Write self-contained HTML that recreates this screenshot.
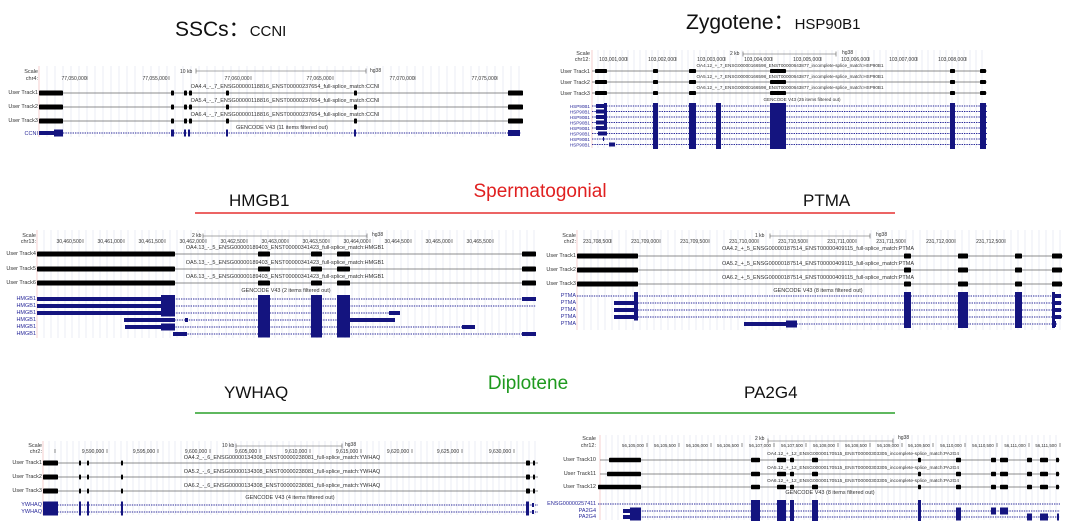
<!DOCTYPE html>
<html><head><meta charset="utf-8">
<style>
html,body{margin:0;padding:0;background:#fff;}
svg{display:block;font-family:"Liberation Sans",sans-serif;}
.t{font-size:5px;fill:#333;}
.tk{font-size:5px;fill:#333;text-anchor:middle;}
.lb{font-size:5.5px;fill:#333;text-anchor:end;}
.gl{font-size:5.5px;fill:#2a2a9a;text-anchor:end;}
.c{font-size:5.5px;fill:#333;text-anchor:middle;}
</style></head><body>
<svg id="s" width="1080" height="532" viewBox="0 0 1080 532" xmlns="http://www.w3.org/2000/svg">
<g id="bg"></g>
<g id="shapes"></g>
<!-- Titles -->
<text x="175" y="36" font-size="21" fill="#111">SSCs：<tspan font-size="15">CCNI</tspan></text>
<text x="686" y="29" font-size="21" fill="#111">Zygotene：<tspan font-size="15">HSP90B1</tspan></text>
<text x="229" y="206" font-size="17" fill="#111">HMGB1</text>
<text x="540" y="197" font-size="19" fill="#e02020" text-anchor="middle">Spermatogonial</text>
<line x1="195" y1="213" x2="895" y2="213" stroke="#e53030" stroke-width="1.5"/>
<text x="803" y="206" font-size="17" fill="#111">PTMA</text>
<text x="224" y="398" font-size="17" fill="#111">YWHAQ</text>
<text x="528" y="389" font-size="19" fill="#1f9a1f" text-anchor="middle">Diplotene</text>
<line x1="195" y1="413" x2="895" y2="413" stroke="#2aa02a" stroke-width="1.5"/>
<text x="744" y="398" font-size="17" fill="#111">PA2G4</text>

<!-- Panel 1 CCNI -->
<text class="lb" x="38" y="73">Scale</text><text class="lb" x="38" y="80">chr4:</text>
<text class="tk" x="74" y="80">77,050,000</text><text class="tk" x="155" y="80">77,055,000</text>
<text class="tk" x="237" y="80">77,060,000</text><text class="tk" x="319" y="80">77,065,000</text>
<text class="tk" x="402" y="80">77,070,000</text><text class="tk" x="484" y="80">77,075,000</text>
<text class="t" x="180" y="73">10 kb</text><text class="t" x="370" y="72">hg38</text>
<text class="c" x="285" y="88">OA4.4_-_7_ENSG00000118816_ENST00000237654_full-splice_match:CCNI</text>
<text class="c" x="285" y="102">OA5.4_-_7_ENSG00000118816_ENST00000237654_full-splice_match:CCNI</text>
<text class="c" x="285" y="116">OA6.4_-_7_ENSG00000118816_ENST00000237654_full-splice_match:CCNI</text>
<text class="lb" x="38" y="94">User Track1</text><text class="lb" x="38" y="108">User Track2</text><text class="lb" x="38" y="122">User Track3</text>
<text class="c" x="282" y="129">GENCODE V43 (11 items filtered out)</text>
<text class="gl" x="38" y="135">CCNI</text>

<!-- Panel 2 HSP90B1 -->
<text class="lb" x="590" y="55">Scale</text><text class="lb" x="590" y="61">chr12:</text>
<text class="tk" x="613" y="61">103,001,000</text><text class="tk" x="662" y="61">103,002,000</text>
<text class="tk" x="711" y="61">103,003,000</text><text class="tk" x="758" y="61">103,004,000</text>
<text class="tk" x="807" y="61">103,005,000</text><text class="tk" x="855" y="61">103,006,000</text>
<text class="tk" x="903" y="61">103,007,000</text><text class="tk" x="952" y="61">103,008,000</text>
<text class="t" x="730" y="55">2 kb</text><text class="t" x="842" y="54">hg38</text>
<text class="c" x="790" y="67" style="font-size:4.6px">OA4.12_+_7_ENSG00000166598_ENST00000643877_incomplete-splice_match:HSP90B1</text>
<text class="c" x="790" y="78" style="font-size:4.6px">OA5.12_+_7_ENSG00000166598_ENST00000643877_incomplete-splice_match:HSP90B1</text>
<text class="c" x="790" y="89" style="font-size:4.6px">OA6.12_+_7_ENSG00000166598_ENST00000643877_incomplete-splice_match:HSP90B1</text>
<text class="lb" x="590" y="73">User Track1</text><text class="lb" x="590" y="84">User Track2</text><text class="lb" x="590" y="95">User Track3</text>
<text class="c" x="802" y="101" style="font-size:4.6px">GENCODE V43 (25 items filtered out)</text>
<g style="font-size:4.6px">
<text class="gl" x="590" y="108" style="font-size:4.6px">HSP90B1</text><text class="gl" x="590" y="113.5" style="font-size:4.6px">HSP90B1</text>
<text class="gl" x="590" y="119" style="font-size:4.6px">HSP90B1</text><text class="gl" x="590" y="124.5" style="font-size:4.6px">HSP90B1</text>
<text class="gl" x="590" y="130" style="font-size:4.6px">HSP90B1</text><text class="gl" x="590" y="135.5" style="font-size:4.6px">HSP90B1</text>
<text class="gl" x="590" y="141" style="font-size:4.6px">HSP90B1</text><text class="gl" x="590" y="146.5" style="font-size:4.6px">HSP90B1</text>
</g>

<!-- Panel 3 HMGB1 -->
<text class="lb" x="36" y="237">Scale</text><text class="lb" x="36" y="243">chr13:</text>
<text class="tk" x="69" y="243">30,460,500</text><text class="tk" x="110" y="243">30,461,000</text>
<text class="tk" x="151" y="243">30,461,500</text><text class="tk" x="192" y="243">30,462,000</text>
<text class="tk" x="233" y="243">30,462,500</text><text class="tk" x="274" y="243">30,463,000</text>
<text class="tk" x="315" y="243">30,463,500</text><text class="tk" x="356" y="243">30,464,000</text>
<text class="tk" x="397" y="243">30,464,500</text><text class="tk" x="438" y="243">30,465,000</text>
<text class="tk" x="479" y="243">30,465,500</text>
<text class="t" x="192" y="237">2 kb</text><text class="t" x="372" y="236">hg38</text>
<text class="c" x="285" y="249">OA4.13_-_5_ENSG00000189403_ENST00000341423_full-splice_match:HMGB1</text>
<text class="c" x="285" y="264">OA5.13_-_5_ENSG00000189403_ENST00000341423_full-splice_match:HMGB1</text>
<text class="c" x="285" y="278">OA6.13_-_5_ENSG00000189403_ENST00000341423_full-splice_match:HMGB1</text>
<text class="lb" x="36" y="255">User Track4</text><text class="lb" x="36" y="270">User Track5</text><text class="lb" x="36" y="284">User Track6</text>
<text class="c" x="286" y="292">GENCODE V43 (2 items filtered out)</text>
<text class="gl" x="36" y="300">HMGB1</text><text class="gl" x="36" y="307">HMGB1</text><text class="gl" x="36" y="314">HMGB1</text>
<text class="gl" x="36" y="321">HMGB1</text><text class="gl" x="36" y="328">HMGB1</text><text class="gl" x="36" y="335">HMGB1</text>

<!-- Panel 4 PTMA -->
<text class="lb" x="576" y="237">Scale</text><text class="lb" x="576" y="243">chr2:</text>
<text class="tk" x="597" y="243">231,708,500</text><text class="tk" x="645" y="243">231,709,000</text>
<text class="tk" x="694" y="243">231,709,500</text><text class="tk" x="743" y="243">231,710,000</text>
<text class="tk" x="792" y="243">231,710,500</text><text class="tk" x="841" y="243">231,711,000</text>
<text class="tk" x="890" y="243">231,711,500</text><text class="tk" x="940" y="243">231,712,000</text>
<text class="tk" x="990" y="243">231,712,500</text>
<text class="t" x="755" y="237">1 kb</text><text class="t" x="876" y="236">hg38</text>
<text class="c" x="818" y="250">OA4.2_+_5_ENSG00000187514_ENST00000409115_full-splice_match:PTMA</text>
<text class="c" x="818" y="265">OA5.2_+_5_ENSG00000187514_ENST00000409115_full-splice_match:PTMA</text>
<text class="c" x="818" y="279">OA6.2_+_5_ENSG00000187514_ENST00000409115_full-splice_match:PTMA</text>
<text class="lb" x="576" y="257">User Track1</text><text class="lb" x="576" y="271">User Track2</text><text class="lb" x="576" y="285">User Track3</text>
<text class="c" x="818" y="292">GENCODE V43 (8 items filtered out)</text>
<text class="gl" x="576" y="297">PTMA</text><text class="gl" x="576" y="304">PTMA</text><text class="gl" x="576" y="311">PTMA</text>
<text class="gl" x="576" y="318">PTMA</text><text class="gl" x="576" y="325">PTMA</text>

<!-- Panel 5 YWHAQ -->
<text class="lb" x="42" y="447">Scale</text><text class="lb" x="42" y="453">chr2:</text>
<text class="tk" x="93" y="453">9,590,000</text><text class="tk" x="144" y="453">9,595,000</text>
<text class="tk" x="196" y="453">9,600,000</text><text class="tk" x="246" y="453">9,605,000</text>
<text class="tk" x="296" y="453">9,610,000</text><text class="tk" x="347" y="453">9,615,000</text>
<text class="tk" x="398" y="453">9,620,000</text><text class="tk" x="448" y="453">9,625,000</text>
<text class="tk" x="500" y="453">9,630,000</text>
<text class="t" x="222" y="447">10 kb</text><text class="t" x="345" y="446">hg38</text>
<text class="c" x="282" y="459">OA4.2_-_6_ENSG00000134308_ENST00000238081_full-splice_match:YWHAQ</text>
<text class="c" x="282" y="473">OA5.2_-_6_ENSG00000134308_ENST00000238081_full-splice_match:YWHAQ</text>
<text class="c" x="282" y="487">OA6.2_-_6_ENSG00000134308_ENST00000238081_full-splice_match:YWHAQ</text>
<text class="lb" x="42" y="464">User Track1</text><text class="lb" x="42" y="478">User Track2</text><text class="lb" x="42" y="492">User Track3</text>
<text class="c" x="290" y="499">GENCODE V43 (4 items filtered out)</text>
<text class="gl" x="42" y="506">YWHAQ</text><text class="gl" x="42" y="513">YWHAQ</text>

<!-- Panel 6 PA2G4 -->
<text class="lb" x="596" y="440">Scale</text><text class="lb" x="596" y="447">chr12:</text>
<g style="font-size:4.4px">
<text class="tk" x="633" y="447" style="font-size:4.4px">56,105,000</text><text class="tk" x="665" y="447" style="font-size:4.4px">56,105,500</text>
<text class="tk" x="697" y="447" style="font-size:4.4px">56,106,000</text><text class="tk" x="728" y="447" style="font-size:4.4px">56,106,500</text>
<text class="tk" x="760" y="447" style="font-size:4.4px">56,107,000</text><text class="tk" x="792" y="447" style="font-size:4.4px">56,107,500</text>
<text class="tk" x="824" y="447" style="font-size:4.4px">56,108,000</text><text class="tk" x="856" y="447" style="font-size:4.4px">56,108,500</text>
<text class="tk" x="888" y="447" style="font-size:4.4px">56,109,000</text><text class="tk" x="919" y="447" style="font-size:4.4px">56,109,500</text>
<text class="tk" x="951" y="447" style="font-size:4.4px">56,110,000</text><text class="tk" x="983" y="447" style="font-size:4.4px">56,110,500</text>
<text class="tk" x="1015" y="447" style="font-size:4.4px">56,111,000</text><text class="tk" x="1046" y="447" style="font-size:4.4px">56,111,500</text>
</g>
<text class="t" x="755" y="440">2 kb</text><text class="t" x="898" y="439">hg38</text>
<text class="c" x="863" y="455" style="font-size:4.8px">OA4.12_+_12_ENSG00000170515_ENST00000303305_incomplete-splice_match:PA2G4</text>
<text class="c" x="863" y="469" style="font-size:4.8px">OA5.12_+_12_ENSG00000170515_ENST00000303305_incomplete-splice_match:PA2G4</text>
<text class="c" x="863" y="482" style="font-size:4.8px">OA6.12_+_12_ENSG00000170515_ENST00000303305_incomplete-splice_match:PA2G4</text>
<text class="lb" x="596" y="461">User Track10</text><text class="lb" x="596" y="475">User Track11</text><text class="lb" x="596" y="488">User Track12</text>
<text class="c" x="830" y="494">GENCODE V43 (8 items filtered out)</text>
<text class="gl" x="596" y="505">ENSG00000257411</text><text class="gl" x="596" y="512">PA2G4</text><text class="gl" x="596" y="518">PA2G4</text>
</svg>
<script>
var NS="http://www.w3.org/2000/svg",G=document.getElementById("shapes"),B=document.getElementById("bg");
function el(p,t,a){var e=document.createElementNS(NS,t);for(var k in a)e.setAttribute(k,a[k]);p.appendChild(e);return e;}
function grid(x0,x1,y0,y1,st){for(var x=x0+st;x<x1;x+=st)el(B,"line",{x1:x,y1:y0,x2:x,y2:y1,stroke:"#e6e9f4","stroke-width":0.8});
 el(B,"line",{x1:x0,y1:y0,x2:x0,y2:y1,stroke:"#f4c4c4","stroke-width":0.8});}
function ticks(xs,y){xs.forEach(function(x){el(G,"line",{x1:x,y1:y-4,x2:x,y2:y,stroke:"#444","stroke-width":0.6});});}
function sbar(a,b,y){el(G,"line",{x1:a,y1:y,x2:b,y2:y,stroke:"#555","stroke-width":0.6});el(G,"line",{x1:a,y1:y-2.5,x2:a,y2:y+2.5,stroke:"#555","stroke-width":0.6});el(G,"line",{x1:b,y1:y-2.5,x2:b,y2:y+2.5,stroke:"#555","stroke-width":0.6});}
function ut(y,x0,x1,bl,h){h=h||5;el(G,"line",{x1:x0,y1:y,x2:x1,y2:y,stroke:"#666","stroke-width":0.8});
 bl.forEach(function(b){el(G,"rect",{x:b[0],y:y-h/2,width:b[1]-b[0],height:h,fill:"#000",rx:0.8});});}
function gc(y,x0,x1,bl){el(G,"line",{x1:x0,y1:y,x2:x1,y2:y,stroke:"#2a2a9a","stroke-width":0.9,"stroke-dasharray":"1.4 1"});
 bl.forEach(function(b){var h=b[2]||7;el(G,"rect",{x:b[0],y:y-h/2,width:b[1]-b[0],height:h,fill:"#14147f"});});}
var N="#14147f";
// Panel 1
grid(39,522,66,137,8);sbar(196,366,71);ticks([87,169,251,333,415,497],80);
[93,107,121].forEach(function(y){ut(y,39,523,[[39,63],[171,174],[184,187],[189,192],[226,229],[354,357],[508,523]]);});
gc(133,39,521,[[39,54,4],[54,63,7],[171,174],[184,186],[188,190],[226,228],[354,356],[508,520,6]]);
// Panel 2
grid(592,987,50,148,6);sbar(743,836,54);ticks([627,676,725,772,821,869,917,966],61);
[71,82,93].forEach(function(y){ut(y,592,987,[[595,607],[653,658],[689,696],[770,786],[950,955],[980,986]],4);});
for(var i=0;i<8;i++){var y=106+i*5.5;var a=i<5?[[596,604,4],[604,607,4]]:(i==5?[[598,607,4]]:(i==6?[[603,604,4]]:[[609,615,4]]));
 gc(y,592,987,a);}
el(G,"rect",{x:604,y:103,width:3,height:27,fill:N});
[[653,658],[689,696],[716,721],[770,786],[950,955],[980,986]].forEach(function(b){el(G,"rect",{x:b[0],y:103,width:b[1]-b[0],height:46,fill:N});});
// Panel 3
grid(37,537,230,338,7);sbar(203,367,236);ticks([83,124,165,206,247,288,329,370,411,452,493],243);
[254,269,283].forEach(function(y){ut(y,37,536,[[37,175],[258,270],[311,322],[337,350],[522,536]]);});
var hx=[[258,270],[311,322],[337,350]];
gc(299,37,536,[[37,161,4],[161,175]].concat(hx,[[522,536,4]]));
gc(306,37,536,[[37,161,4],[161,175]].concat(hx));
gc(313,37,400,[[37,161,4],[161,175]].concat(hx,[[389,400,4]]));
gc(320,124,395,[[124,175,4],[185,188,4]].concat(hx,[[350,395,4]]));
gc(327,125,475,[[125,161,4],[161,175]].concat(hx,[[462,475,4]]));
gc(334,173,536,[[173,187,4]].concat(hx,[[522,536,4]]));
hx.forEach(function(b){el(G,"rect",{x:b[0],y:295,width:b[1]-b[0],height:42,fill:N});});
el(G,"rect",{x:161,y:295,width:14,height:21,fill:N});
// Panel 4
grid(577,1064,230,330,7);sbar(770,870,236);ticks([611,660,709,758,807,856,905,955,1005],243);
[256,270,284].forEach(function(y){ut(y,577,1063,[[577,638],[904,911],[958,968],[1015,1022],[1052,1062]]);});
var px=[[904,911],[958,968],[1015,1022]];
gc(296,577,1062,[[634,638]].concat(px,[[1053,1061,4]]));
gc(303,614,1062,[[614,634,4],[634,638]].concat(px,[[1053,1061,4]]));
gc(310,614,1062,[[614,634,4],[634,638]].concat(px,[[1053,1061,4]]));
gc(317,614,1062,[[614,634,4],[634,638]].concat(px,[[1053,1061,4]]));
gc(324,744,1057,[[744,786,4],[786,797]].concat(px,[[1052,1056,6]]));
px.forEach(function(b){el(G,"rect",{x:b[0],y:292,width:b[1]-b[0],height:36,fill:N});});
el(G,"rect",{x:634,y:292,width:4,height:28,fill:N});el(G,"rect",{x:1052,y:292,width:3,height:36,fill:N});
// Panel 5
grid(43,538,441,515,6);sbar(236,342,446);ticks([55,107,158,210,260,310,361,412,462,514],453);
[463,477,491].forEach(function(y){ut(y,43,538,[[43,58],[79,81],[87,89],[121,123],[526,530],[533,535]]);});
[505,512].forEach(function(y){gc(y,43,538,[[43,58],[79,81],[87,89],[121,123],[526,529],[532,534,4]]);});
// Panel 6
grid(600,1060,435,520,6);sbar(768,893,441);ticks([647,679,711,742,774,806,838,870,902,933,965,997,1029,1060],447);
var ex=[[751,760],[777,786],[790,794],[812,818],[918,921],[956,961],[991,996],[1000,1008],[1027,1032],[1040,1048],[1056,1059]];
ut(460,600,1060,[[609,641]].concat(ex),4.5);
ut(474,600,1060,[[607,641]].concat(ex),4.5);
ut(487,598,1060,[[598,641]].concat(ex),4.5);
gc(504,598,1060,[]);
gc(511,623,1060,[[623,630,4],[630,641]].concat(ex.slice(0,8)));
gc(517,623,1060,[[623,630,4],[630,641]].concat(ex.slice(0,6),[[1027,1032],[1040,1048],[1057,1059]]));
[[751,760],[777,786],[790,794],[812,818],[918,921]].forEach(function(b){el(G,"rect",{x:b[0],y:500,width:b[1]-b[0],height:21,fill:N});});
</script>
</body></html>
